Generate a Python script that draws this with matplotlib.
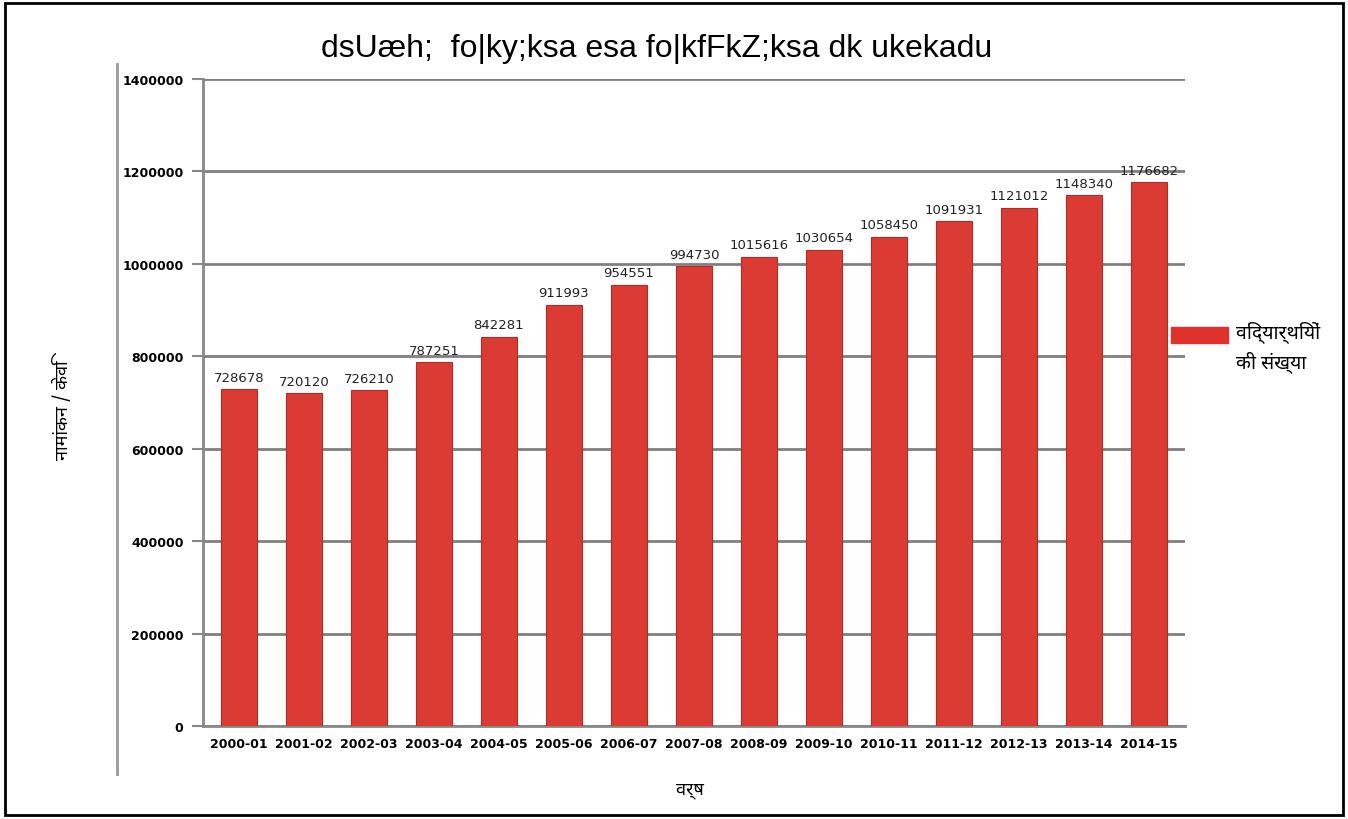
import matplotlib.pyplot as plt
from matplotlib.lines import Line2D
from matplotlib.patches import Rectangle
from matplotlib import font_manager

years = ['2000-01', '2001-02', '2002-03', '2003-04', '2004-05', '2005-06', '2006-07',
         '2007-08', '2008-09', '2009-10', '2010-11', '2011-12', '2012-13', '2013-14', '2014-15']
students = [728678, 720120, 726210, 787251, 842281, 911993, 954551, 994730,
            1015616, 1030654, 1058450, 1091931, 1121012, 1148340, 1176682]
y_ticks = [0, 200000, 400000, 600000, 800000, 1000000, 1200000, 1400000]

title = 'dsUæh;  fo|ky;ksa esa fo|kfFkZ;ksa dk ukekadu'
legend_label = 'विद्यार्थियों\nकी संख्या'
y_label = 'नामांकन / केवि'
x_label = 'वर्ष'

names = {f.name for f in font_manager.fontManager.ttflist}
deva = [n for n in ['Noto Sans Devanagari', 'Lohit Devanagari', 'Mukta', 'Noto Sans', 'FreeSans']
        if n in names]
hindi = deva + ['DejaVu Sans']

fig = plt.figure(figsize=(13.48, 8.2), dpi=100)
ax = fig.add_axes([0.1506, 0.1134, 0.7284, 0.789])

bar_color = '#dc3b34'
x = range(len(years))
bars = ax.bar(x, students, width=0.55, color=bar_color, edgecolor='#b52a25', linewidth=0.8, zorder=3)
for xi, v in zip(x, students):
    ax.text(xi, v + 12000, str(v), ha='center', va='bottom', fontsize=9.5, color='#222222', zorder=4)

ax.set_ylim(0, 1400000)
ax.set_xlim(-0.55, len(years) - 0.45)
ax.set_yticks(y_ticks)
ax.set_yticklabels([str(t) for t in y_ticks], fontsize=9, fontweight='bold')
ax.set_xticks(list(x))
ax.set_xticklabels(years, fontsize=9, fontweight='bold')
ax.tick_params(axis='x', length=0, pad=8)
ax.tick_params(axis='y', length=8, color='#888888', width=1.5, pad=6)
ax.grid(axis='y', color='#808080', linewidth=2, zorder=0)
for s in ['top', 'right']:
    ax.spines[s].set_visible(False)
ax.spines['left'].set_color('#888888')
ax.spines['left'].set_linewidth(2)
ax.spines['bottom'].set_color('#888888')
ax.spines['bottom'].set_linewidth(2)

fig.text(0.487, 0.94, title, ha='center', va='center', fontsize=23,
         family=['Liberation Sans Narrow', 'Liberation Sans', 'DejaVu Sans'])
fig.text(0.046, 0.5, y_label, rotation=90, ha='center', va='center', fontsize=13, family=hindi)
fig.text(0.512, 0.037, x_label, ha='center', va='center', fontsize=13, family=hindi)
fig.patches.append(Rectangle((0.869, 0.581), 0.042, 0.019, transform=fig.transFigure,
                             color='#e0322c', zorder=5))
fig.text(0.917, 0.608, legend_label, ha='left', va='top', fontsize=14, family=hindi,
         linespacing=1.45)

fig.lines.append(Line2D([0.087, 0.087], [0.055, 0.921], transform=fig.transFigure,
                        color='#999999', linewidth=2))
fig.patches.append(Rectangle((0.004, 0.005), 0.992, 0.99, transform=fig.transFigure,
                             fill=False, edgecolor='black', linewidth=2))

fig.savefig('out.png', dpi=100)
